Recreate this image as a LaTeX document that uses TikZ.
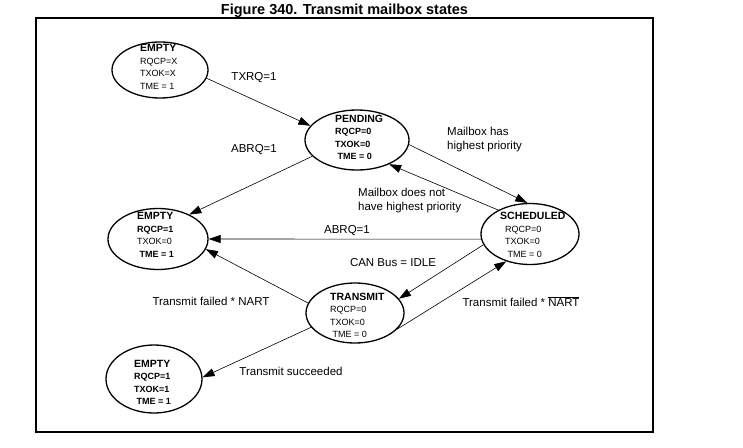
\documentclass[tikz,border=0pt]{standalone}
\usepackage{fontspec}
\setmainfont{Liberation Sans}
\usetikzlibrary{shapes.geometric,arrows.meta}
\newcommand\sname[1]{{\fontsize{10.5}{12.5}\selectfont\bfseries #1}}
\tikzset{
  state/.style 2 args={ellipse,draw,line width=1.3pt,inner sep=0pt,minimum width=#1,minimum height=#2},
  stxt/.style={align=left,anchor=west,inner sep=0pt,font=\fontsize{9}{12.5}\selectfont},
  lbl/.style={inner sep=0pt,font=\fontsize{11.5}{13.5}\selectfont},
  arr/.style={line width=0.6pt,-{Triangle[length=12pt,width=8pt]}}
}
\begin{document}
\begin{tikzpicture}[x=1pt,y=-1pt]
\useasboundingbox (0,0) rectangle (743,447);
\node[anchor=base,inner sep=0pt,font=\fontsize{14.5}{17}\selectfont\bfseries] (title) at (344.5,14) {Figure 340. Transmit mailbox states};
\draw[line width=1.2pt] (36,18) rectangle (653,432);
\node[state={96pt}{56pt}] (emptyA) at (160,70) {};
\node[state={104pt}{60pt}] (pend) at (357,140) {};
\node[state={98pt}{61pt}] (sched) at (530,234) {};
\node[state={100pt}{61pt}] (emptyB) at (158,239) {};
\node[state={98pt}{60pt}] (trans) at (355,313) {};
\node[state={96pt}{68pt}] (emptyC) at (154,379) {};
\node[stxt] (emptyAtxt) at (140,67) {\sname{EMPTY}\\RQCP=X\\TXOK=X\\TME = 1};
\node[stxt] (pendtxt) at (335,137.5) {\sname{PENDING}\\\textbf{RQCP=0}\\\textbf{TXOK=0}\\\textbf{\ TME = 0}};
\node[stxt] (schedtxt) at (500,235) {\sname{SCHEDULED}\\\ \ RQCP=0\\\ \ TXOK=0\\\ \ \ TME = 0};
\node[stxt] (emptyBtxt) at (137,235) {\sname{EMPTY}\\\textbf{RQCP=1}\\TXOK=0\\\textbf{\ TME = 1}};
\node[stxt] (transtxt) at (330,315.5) {\sname{TRANSMIT}\\RQCP=0\\TXOK=0\\\ TME = 0};
\node[stxt] (emptyCtxt) at (134,382.5) {\sname{EMPTY}\\\textbf{RQCP=1}\\\textbf{TXOK=1}\\\textbf{\ TME = 1}};
\draw[arr] (emptyA.-10) -- (pend.163);
\draw[arr] (pend.200) -- (emptyB.38);
\draw[arr] (pend.-5) -- (sched.95);
\draw[arr] (sched.143) -- (pend.-37);
\draw[arr] (sched.186) -- (emptyB.east);
\draw[arr] (sched.193) -- (trans.18);
\draw[arr] (trans.168) -- (emptyB.-12);
\draw[arr] (trans.-21) -- (sched.229);
\draw[arr] (trans.198) -- (emptyC.2);
\node[lbl] (txrq) at (254,78) {TXRQ=1};
\node[lbl] (abrqA) at (254,150) {ABRQ=1};
\node[lbl,align=left,anchor=west] (hasprio) at (447,139.5) {Mailbox has\\highest priority};
\node[lbl,align=left,anchor=west] (notprio) at (358,200.5) {Mailbox does not\\have highest priority};
\node[lbl] (abrqB) at (347,231) {ABRQ=1};
\node[lbl] (idle) at (393,263) {CAN Bus = IDLE};
\node[lbl] (failA) at (211,301) {Transmit failed * NART};
\node[lbl] (failB) at (521,302) {Transmit failed * $\overline{\mbox{NART}}$};
\node[lbl] (succ) at (291,371) {Transmit succeeded};
\end{tikzpicture}
\end{document}
